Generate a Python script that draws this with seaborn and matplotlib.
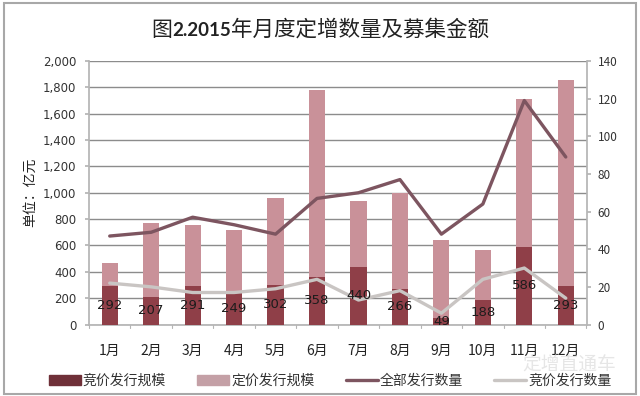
import matplotlib
matplotlib.use('Agg')
import matplotlib.pyplot as plt
import numpy as np
import pandas as pd
import seaborn as sns
from matplotlib.lines import Line2D
from matplotlib.patches import Patch, Rectangle

months = ['1月', '2月', '3月', '4月', '5月', '6月', '7月', '8月', '9月', '10月', '11月', '12月']
# 竞价发行规模 (labels on the chart)
bid_scale = [292, 207, 291, 249, 302, 358, 440, 266, 49, 188, 586, 293]
# top of each stacked bar
total_scale = [463, 771, 758, 716, 958, 1782, 940, 999, 640, 569, 1712, 1856]
all_count = [47, 49, 57, 53, 48, 67, 70, 77, 48, 64, 119, 89]
bid_count = [22, 20, 17, 17, 19, 24, 13, 18, 6, 24, 30, 14]

sns.set_theme(style='white')
plt.rcParams['font.family'] = ['Noto Sans CJK SC', 'DejaVu Sans']

df = pd.DataFrame({'month': months, 'bid': bid_scale, 'total': total_scale,
                   'all_count': all_count, 'bid_count': bid_count})

fig = plt.figure(figsize=(6.4, 3.96), dpi=100)
ax = fig.add_axes([89 / 640, 1 - 324.5 / 396, (586.5 - 89) / 640, (324.5 - 61) / 396])

sns.barplot(data=df, x='month', y='total', color='#c99199', saturation=1, width=0.39,
            linewidth=0, ax=ax, zorder=2)
sns.barplot(data=df, x='month', y='bid', color='#8f3f48', saturation=1, width=0.39,
            linewidth=0, ax=ax, zorder=3)
ax.set_xlim(-0.5, 11.5)
ax.set_ylim(0, 2000)
ax.set_yticks(range(0, 2001, 200))
ax.set_yticklabels([f'{v:,}' for v in range(0, 2001, 200)], fontsize=8.5, color='#333333',
                   family='DejaVu Sans')
ax.tick_params(axis='y', left=True, length=3, color='#b5b5b5', pad=6)
ax.tick_params(axis='x', length=0, pad=14, labelsize=10, labelcolor='#222222')
ax.grid(axis='y', color='#8c8c8c', lw=1)
ax.set_axisbelow(True)
ax.set_xlabel('')
ax.set_ylabel('单位：亿元', fontsize=10, color='#222222', labelpad=4)
for side in ['top', 'right']:
    ax.spines[side].set_visible(False)
for side in ['left', 'bottom']:
    ax.spines[side].set_color('#b5b5b5')

ax2 = ax.twinx()
sns.lineplot(data=df, x='month', y='all_count', color='#7d5560', lw=2.4, sort=False, ax=ax2, zorder=4)
sns.lineplot(data=df, x='month', y='bid_count', color='#c9c5c3', lw=2.4, sort=False, ax=ax2, zorder=4)
ax2.set_ylim(0, 140)
ax2.set_yticks(range(0, 141, 20))
ax2.tick_params(axis='y', labelsize=8.5, labelcolor='#333333', length=3, color='#b5b5b5', pad=5, right=True)
ax2.set_ylabel('')
ax2.set_xlabel('')
for side in ['top', 'left', 'bottom']:
    ax2.spines[side].set_visible(False)
ax2.spines['right'].set_color('#b5b5b5')

# value labels go above the lines, centred on the dark segment
ax2.bar_label(ax.containers[1], label_type='center', fontsize=9.5, color='#1c1c1c',
              family='DejaVu Sans', zorder=6)

# x tick marks sit between the bars
for x in np.arange(-0.5, 11.6, 1):
    ax.plot([x, x], [0, -25], color='#b5b5b5', lw=0.8, clip_on=False)

# title: the figure number is set in a bold latin face
t1 = fig.text(151 / 640, 1 - 30 / 396, '图', ha='left', va='center', fontsize=15, color='#222222')
t2 = plt.annotate('2.2015', xy=(1, 0.5), xycoords=t1, ha='left', va='center', annotation_clip=False,
                  fontsize=13.5, color='#222222', family='Lato', fontweight='bold')
plt.annotate('年月度定增数量及募集金额', xy=(1, 0.5), xycoords=t2, ha='left', va='center',
             annotation_clip=False, fontsize=15.5, color='#222222')

handles = [Patch(color='#6f3038'), Patch(color='#c4a0a6'),
           Line2D([], [], color='#7d5560', lw=2.4), Line2D([], [], color='#c9c5c3', lw=2.4)]
fig.legend(handles, ['竞价发行规模', '定价发行规模', '全部发行数量', '竞价发行数量'],
           loc='center', bbox_to_anchor=(330 / 640, 1 - 381 / 396), ncol=4, frameon=False,
           fontsize=10, columnspacing=2.25, handlelength=2.3, handletextpad=0.15,
           labelcolor='#333333')

# site watermark over the lower right corner
fig.text(569 / 640, 1 - 365 / 396, '定增直通车', ha='center', va='center', fontsize=13.5, color='#e6e6e6')

# outer frame of the screenshot
fig.add_artist(Rectangle((4 / 640, 2 / 396), 632 / 640, 391 / 396,
                         fill=False, ec='#a8a8a8', lw=1.5, transform=fig.transFigure))

fig.savefig('out.png', dpi=100)
